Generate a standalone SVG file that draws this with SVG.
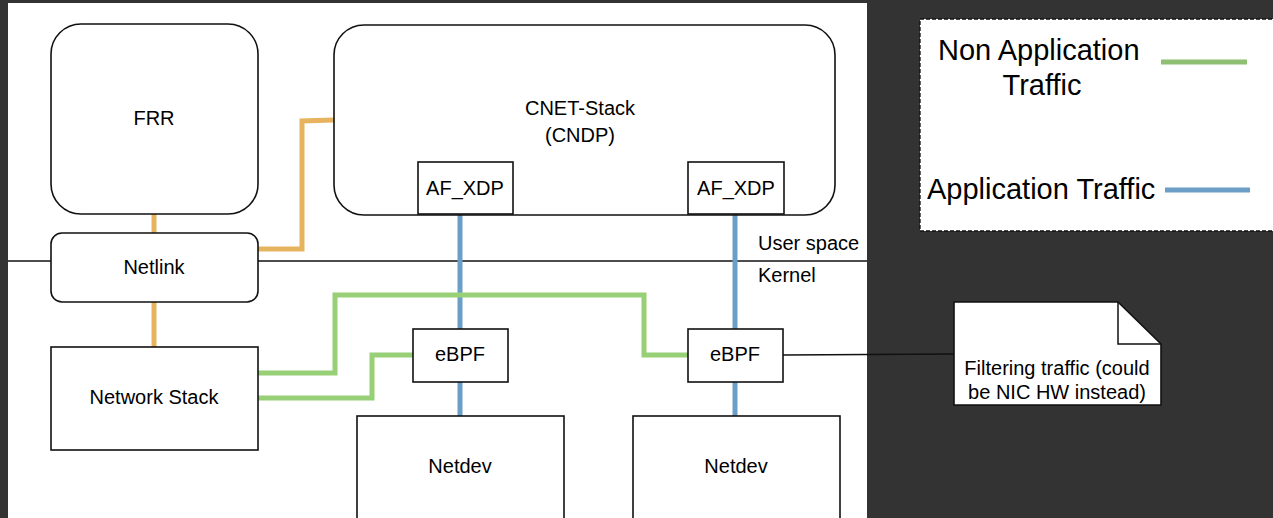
<svg xmlns="http://www.w3.org/2000/svg" width="1273" height="518" viewBox="0 0 1273 518">
<style>
.box{fill:#fff;stroke:#111;stroke-width:1.6}
.t{font-family:"Liberation Sans",Arial,sans-serif;font-size:20px;fill:#000;text-anchor:middle}
.ts{font-family:"Liberation Sans",Arial,sans-serif;font-size:20px;fill:#000}
.lg{font-family:"Liberation Sans",Arial,sans-serif;font-size:29px;fill:#000}
.or{fill:none;stroke:#e6b45f;stroke-width:5}
.gr{fill:none;stroke:#97d077;stroke-width:5}
.bl{fill:none;stroke:#6c9fc8;stroke-width:5}
.thin{fill:none;stroke:#111;stroke-width:1.5}
</style>
<rect x="0" y="0" width="1273" height="518" fill="#333333"/>
<rect x="8" y="3" width="859" height="520" fill="#ffffff"/>
<line class="thin" x1="8" y1="261" x2="867" y2="261"/>
<text class="ts" x="758" y="250">User space</text>
<text class="ts" x="758" y="282">Kernel</text>
<g id="connectors">
<polyline class="or" points="154,214 154,233"/>
<polyline class="or" points="154,302 154,347"/>
<polyline class="or" points="258,249 302,249 302,121 334,120"/>
<polyline class="bl" points="460,214 460,329"/>
<polyline class="bl" points="460,382 460,416"/>
<polyline class="bl" points="735,214 735,329"/>
<polyline class="bl" points="735,382 735,416"/>
<polyline class="gr" points="258,373 335,373 335,295 644,295 644,355 688,355"/>
<polyline class="gr" points="258,398 372,398 372,355 413,355"/>
<polyline class="thin" points="783,355 954,354"/>
</g>
<g id="frr"><rect class="box" x="51" y="24" width="207" height="190" rx="30"/><text class="t" x="154" y="125">FRR</text></g>
<g id="cnet"><rect class="box" x="334" y="25" width="501" height="190" rx="30"/><text class="t" x="580" y="115">CNET-Stack</text><text class="t" x="580" y="142">(CNDP)</text></g>
<g id="afxdp1"><rect class="box" x="418" y="162" width="95" height="52"/><text class="t" x="465" y="195">AF_XDP</text></g>
<g id="afxdp2"><rect class="box" x="688" y="162" width="96" height="52"/><text class="t" x="736" y="195">AF_XDP</text></g>
<g id="netlink"><rect class="box" x="51" y="233" width="207" height="69" rx="11"/><text class="t" x="154" y="274">Netlink</text></g>
<g id="netstack"><rect class="box" x="51" y="347" width="207" height="103"/><text class="t" x="154" y="404">Network Stack</text></g>
<g id="ebpf1"><rect class="box" x="413" y="329" width="95" height="53"/><text class="t" x="460" y="361">eBPF</text></g>
<g id="ebpf2"><rect class="box" x="688" y="329" width="95" height="53"/><text class="t" x="735" y="361">eBPF</text></g>
<g id="netdev1"><rect class="box" x="357" y="416" width="207" height="120"/><text class="t" x="460" y="473">Netdev</text></g>
<g id="netdev2"><rect class="box" x="633" y="416" width="207" height="120"/><text class="t" x="736" y="473">Netdev</text></g>
<g id="note">
<path class="box" d="M954,302 H1118 L1161,344 V405 H954 Z"/>
<path class="thin" d="M1118,302 V344 H1161"/>
<text class="t" x="1057" y="375">Filtering traffic (could</text>
<text class="t" x="1057" y="399">be NIC HW instead)</text>
</g>
<g id="legend">
<rect x="920" y="19" width="370" height="212" fill="#fff" stroke="#111" stroke-width="1.3" stroke-dasharray="4,2"/>
<text class="lg" x="938" y="60">Non Application</text>
<text class="lg" x="1042" y="95" text-anchor="middle">Traffic</text>
<line x1="1161" y1="62" x2="1247" y2="62" stroke="#8fbf72" stroke-width="5"/>
<text class="lg" x="927" y="199">Application Traffic</text>
<line x1="1165" y1="190" x2="1250" y2="190" stroke="#6c9fc8" stroke-width="5"/>
</g>
</svg>
